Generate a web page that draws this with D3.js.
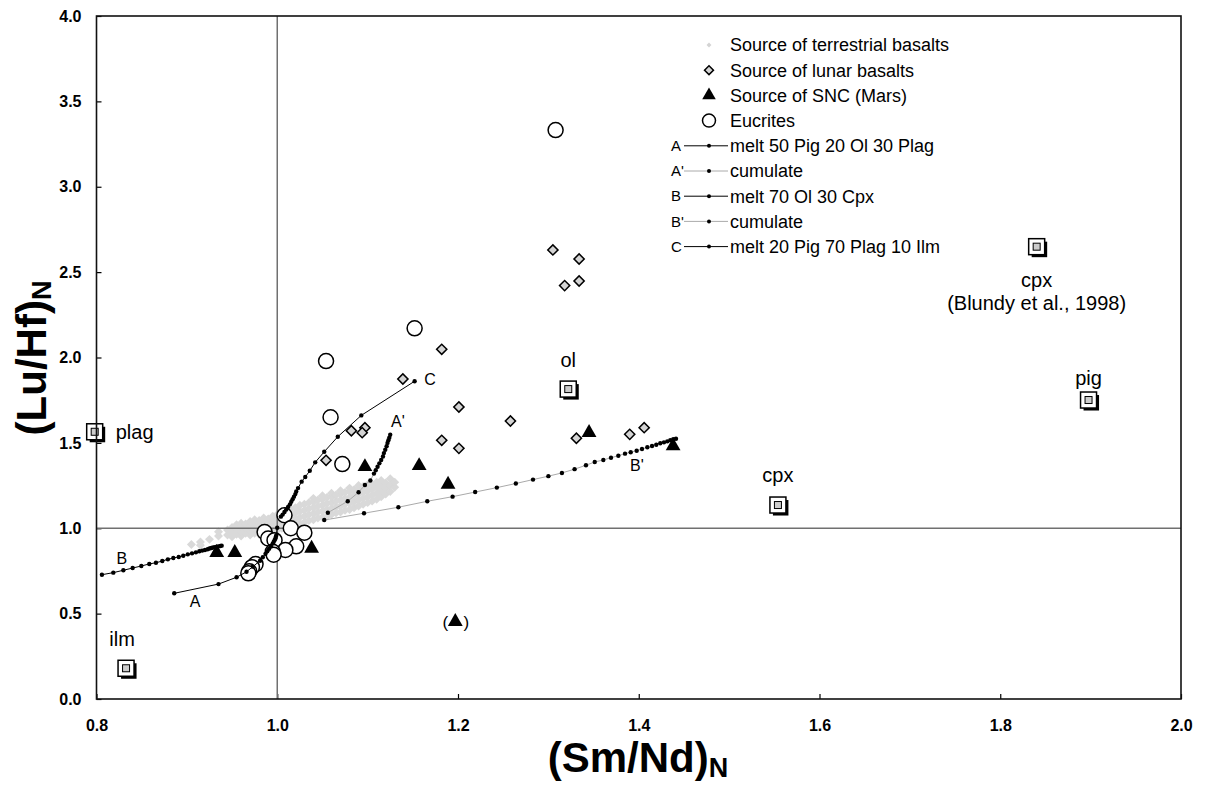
<!DOCTYPE html>
<html>
<head>
<meta charset="utf-8">
<script src="https://cdn.jsdelivr.net/npm/d3@7"></script>
<style>
  body { margin: 0; background: #fff; }
  text { font-family: "Liberation Sans", Arial, sans-serif; }
</style>
</head>
<body>
<script>
'use strict';

// ---- data ----
const xTicks = [0.8, 1.0, 1.2, 1.4, 1.6, 1.8, 2.0]
const yTicks = [0.0, 0.5, 1.0, 1.5, 2.0, 2.5, 3.0, 3.5, 4.0]

// source of terrestrial basalts (grey cloud)
const terrestrial = [
  [0.905,0.905],[0.915,0.92],[0.915,0.90],[0.925,0.935],[0.935,0.955],[0.935,0.98],
  [0.945,0.96],[0.945,0.99],[0.95,0.95],[0.95,0.975],[0.95,1.005],
  [0.955,0.965],[0.955,0.995],[0.955,1.02],[0.96,0.955],[0.96,0.98],[0.96,1.01],[0.96,1.03],
  [0.965,0.97],[0.965,1.0],[0.965,1.025],[0.97,0.96],[0.97,0.985],[0.97,1.01],[0.97,1.04],
  [0.975,0.97],[0.975,1.0],[0.975,1.025],[0.975,1.05],[0.98,0.965],[0.98,0.99],[0.98,1.015],[0.98,1.045],
  [0.985,0.975],[0.985,1.005],[0.985,1.035],[0.985,1.06],[0.99,0.97],[0.99,1.0],[0.99,1.025],[0.99,1.055],
  [0.995,0.985],[0.995,1.015],[0.995,1.045],[0.995,1.07],[1.0,0.99],[1.0,1.02],[1.0,1.05],[1.0,1.08],
  [1.005,1.0],[1.005,1.03],[1.005,1.06],[1.005,1.09],[1.01,1.0],[1.01,1.035],[1.01,1.07],[1.01,1.1],
  [1.015,1.01],[1.015,1.045],[1.015,1.08],[1.015,1.115],[1.02,1.02],[1.02,1.055],[1.02,1.09],[1.02,1.12],
  [1.025,1.03],[1.025,1.065],[1.025,1.1],[1.025,1.135],[1.03,1.035],[1.03,1.07],[1.03,1.105],[1.03,1.14],
  [1.035,1.045],[1.035,1.08],[1.035,1.115],[1.035,1.15],[1.04,1.05],[1.04,1.085],[1.04,1.12],[1.04,1.155],[1.04,1.175],
  [1.045,1.06],[1.045,1.095],[1.045,1.13],[1.045,1.165],[1.05,1.065],[1.05,1.1],[1.05,1.135],[1.05,1.17],[1.05,1.19],
  [1.055,1.07],[1.055,1.11],[1.055,1.145],[1.055,1.18],[1.06,1.08],[1.06,1.115],[1.06,1.15],[1.06,1.185],[1.06,1.205],
  [1.065,1.09],[1.065,1.125],[1.065,1.16],[1.065,1.195],[1.07,1.095],[1.07,1.13],[1.07,1.165],[1.07,1.2],[1.07,1.22],
  [1.075,1.105],[1.075,1.14],[1.075,1.175],[1.075,1.21],[1.08,1.11],[1.08,1.145],[1.08,1.18],[1.08,1.215],[1.08,1.235],
  [1.085,1.12],[1.085,1.155],[1.085,1.19],[1.085,1.225],[1.09,1.13],[1.09,1.165],[1.09,1.2],[1.09,1.235],[1.09,1.25],
  [1.095,1.14],[1.095,1.175],[1.095,1.21],[1.095,1.245],[1.1,1.15],[1.1,1.185],[1.1,1.22],[1.1,1.255],
  [1.105,1.16],[1.105,1.195],[1.105,1.23],[1.105,1.26],[1.11,1.17],[1.11,1.205],[1.11,1.24],[1.11,1.27],
  [1.115,1.185],[1.115,1.22],[1.115,1.255],[1.115,1.28],[1.12,1.2],[1.12,1.235],[1.12,1.265],
  [1.125,1.215],[1.125,1.25],[1.125,1.29],[1.13,1.24],[1.13,1.27]
]

// source of lunar basalts
const lunar = [
  [1.305,2.63],[1.334,2.577],[1.318,2.421],[1.334,2.448],[1.182,2.048],[1.139,1.874],
  [1.201,1.71],[1.258,1.628],[1.082,1.571],[1.097,1.589],[1.094,1.56],[1.054,1.398],
  [1.182,1.515],[1.201,1.468],[1.331,1.527],[1.390,1.55],[1.406,1.589]
]

// source of SNC (Mars)
const snc = [
  [0.933,0.857],[0.953,0.857],[1.038,0.882],[1.097,1.36],[1.157,1.366],[1.189,1.257],
  [1.345,1.56],[1.438,1.482],[1.197,0.453]
]

// eucrites
const eucrites = [
  [1.308,3.332],[1.152,2.171],[1.054,1.979],[1.059,1.65],[1.072,1.376],[1.008,1.076],
  [0.986,0.978],[1.015,1.0],[1.03,0.974],[0.99,0.94],[0.997,0.93],[1.021,0.894],
  [1.009,0.873],[0.995,0.862],[0.996,0.845],[0.976,0.79],[0.972,0.772],[0.969,0.748],[0.968,0.736]
]

// model curves
const curveA = [
  [0.886,0.619],[0.935,0.673],[0.955,0.713],[0.966,0.745],[0.973,0.775],[0.981,0.81],[0.984,0.83],
  [0.987,0.85],[0.989,0.865],[0.991,0.88],[0.993,0.895],[0.995,0.91],[0.996,0.92],[0.997,0.93],
  [0.998,0.94],[0.9985,0.95],[0.999,0.96],[1.0,1.003]
]
const curveA2 = [
  [1.056,1.091],[1.078,1.158],[1.09,1.211],[1.097,1.253],[1.103,1.28],[1.107,1.32],[1.109,1.34],
  [1.111,1.36],[1.113,1.38],[1.115,1.4],[1.117,1.42],[1.118,1.44],[1.1195,1.46],[1.121,1.48],
  [1.122,1.5],[1.123,1.515],[1.124,1.53],[1.125,1.548]
]
const curveB = [
  [0.806,0.728],[0.8186,0.74],[0.8297,0.754],[0.84,0.767],[0.8496,0.779],[0.8584,0.791],[0.8658,0.798],
  [0.8728,0.808],[0.879,0.818],[0.885,0.826],[0.891,0.832],[0.896,0.839],[0.901,0.847],[0.9057,0.853],
  [0.91,0.859],[0.9138,0.865],[0.917,0.869],[0.92,0.873],[0.923,0.877],[0.925,0.881],[0.927,0.884],
  [0.929,0.887],[0.931,0.889],[0.933,0.892],[0.935,0.894],[0.937,0.896],[0.9385,0.898]
]
const curveB2 = [
  [1.052,1.048],[1.096,1.088],[1.134,1.123],[1.166,1.158],[1.194,1.185],[1.219,1.212],[1.243,1.238],
  [1.264,1.262],[1.283,1.285],[1.3,1.305],[1.315,1.324],[1.329,1.346],[1.3416,1.369],[1.3513,1.388],
  [1.3608,1.4],[1.3693,1.413],[1.3774,1.425],[1.3848,1.437],[1.3911,1.445],[1.3977,1.454],[1.4036,1.464],
  [1.4095,1.474],[1.4147,1.482],[1.4194,1.489],[1.4238,1.498],[1.4279,1.503],[1.4316,1.509],
  [1.4349,1.515],[1.4382,1.521],[1.4412,1.524]
]
const curveC = [
  [1.004,1.068],[1.006,1.08],[1.008,1.095],[1.01,1.11],[1.012,1.125],[1.014,1.14],[1.0155,1.155],
  [1.017,1.17],[1.0185,1.185],[1.02,1.2],[1.021,1.215],[1.023,1.235],[1.027,1.273],[1.031,1.3],
  [1.036,1.337],[1.042,1.386],[1.052,1.448],[1.067,1.536],[1.093,1.661],[1.152,1.861]
]

const curveNames = ['A', "A'", 'B', "B'", 'C']
const curveLabelX = [0.909, 1.1336, 0.828, 1.398, 1.169]
const curveLabelY = [0.574, 1.628, 0.826, 1.37, 1.874]

// mineral partition points
const minerals = ['plag', 'ilm', 'ol', 'cpx', 'cpx', 'pig']
const mineralX = [0.798, 0.8327, 1.322, 1.554, 1.8403, 1.8977]
const mineralY = [1.565, 0.18, 1.815, 1.136, 2.649, 1.751]

const legendLabels = [
  'Source of terrestrial basalts', 'Source of lunar basalts', 'Source of SNC (Mars)', 'Eucrites',
  'melt 50 Pig 20 Ol 30 Plag', 'cumulate', 'melt 70 Ol 30 Cpx', 'cumulate', 'melt 20 Pig 70 Plag 10 Ilm'
]

// ---- drawing ----
const W = 1207, H = 788
const svg = d3.select('body').append('svg').attr('width', W).attr('height', H)

const x = d3.scaleLinear().domain([0.8, 2.0]).range([96.5, 1181])
const y = d3.scaleLinear().domain([0, 4]).range([699, 16])

// axes
svg.append('g')
    .attr('transform', `translate(0,${y(0)})`)
    .call(d3.axisBottom(x).tickValues(xTicks).tickFormat(d3.format('.1f')).tickSizeInner(-5).tickSizeOuter(0).tickPadding(21))
    .call(g => g.select('.domain').remove())
svg.append('g')
    .attr('transform', `translate(${x(0.8)},0)`)
    .call(d3.axisLeft(y).tickValues(yTicks).tickFormat(d3.format('.1f')).tickSizeInner(-5).tickSizeOuter(0).tickPadding(15))
    .call(g => g.select('.domain').remove())
svg.selectAll('.tick line').attr('stroke', '#000').attr('stroke-width', 1.2)
svg.selectAll('.tick text').attr('font-size', 16).attr('font-weight', 'bold')
    .attr('font-family', '"Liberation Sans", Arial, sans-serif').attr('fill', '#000')

// grey cloud
const plot = svg.append('g')
plot.selectAll('.terr').data(terrestrial).enter().append('path')
    .attr('d', d3.symbol(d3.symbolSquare, 40)())
    .attr('transform', d => `translate(${x(d[0])},${y(d[1])}) rotate(45)`)
    .attr('fill', '#d9d9d9')

// reference lines at 1.0
plot.append('line').attr('x1', x(0.8)).attr('x2', x(2.0)).attr('y1', y(1)).attr('y2', y(1))
    .attr('stroke', '#707070').attr('stroke-width', 1.5)
plot.append('line').attr('x1', x(1)).attr('x2', x(1)).attr('y1', y(0)).attr('y2', y(4))
    .attr('stroke', '#707070').attr('stroke-width', 1.5)

// frame
svg.append('rect').attr('x', x(0.8)).attr('y', y(4)).attr('width', x(2) - x(0.8)).attr('height', y(0) - y(4))
    .attr('fill', 'none').attr('stroke', '#111').attr('stroke-width', 1.6)

// markers
plot.selectAll('.euc').data(eucrites).enter().append('circle')
    .attr('cx', d => x(d[0])).attr('cy', d => y(d[1])).attr('r', 7.5)
    .attr('fill', '#fff').attr('stroke', '#000').attr('stroke-width', 1.5)

plot.selectAll('.lun').data(lunar).enter().append('path')
    .attr('d', d3.symbol(d3.symbolSquare, 52)())
    .attr('transform', d => `translate(${x(d[0])},${y(d[1])}) rotate(45)`)
    .attr('fill', '#d4d4d4').attr('stroke', '#000').attr('stroke-width', 1.5)

plot.selectAll('.snc').data(snc).enter().append('path')
    .attr('d', d3.symbol(d3.symbolTriangle, 95)())
    .attr('transform', d => `translate(${x(d[0])},${y(d[1])})`)
    .attr('fill', '#000')

// curves
const line = d3.line().x(d => x(d[0])).y(d => y(d[1]))
const curves = [curveA, curveA2, curveB, curveB2, curveC]
const curveStroke = ['#000', '#aaa', '#000', '#aaa', '#000']
curves.forEach(function (c, i) {
    plot.append('path').attr('d', line(c)).attr('fill', 'none')
        .attr('stroke', curveStroke[i]).attr('stroke-width', 1)
    plot.selectAll('.dot' + i).data(c).enter().append('circle')
        .attr('cx', d => x(d[0])).attr('cy', d => y(d[1])).attr('r', 2.2).attr('fill', '#000')
})
curveNames.forEach(function (n, i) {
    plot.append('text').attr('x', x(curveLabelX[i])).attr('y', y(curveLabelY[i]))
        .attr('text-anchor', 'middle').attr('dy', '0.35em').attr('font-size', 16).text(n)
})
// brackets round the odd SNC point
plot.append('text').attr('x', x(snc[8][0]) - 10).attr('y', y(snc[8][1]) + 6)
    .attr('text-anchor', 'middle').attr('font-size', 17).text('(')
plot.append('text').attr('x', x(snc[8][0]) + 11).attr('y', y(snc[8][1]) + 6)
    .attr('text-anchor', 'middle').attr('font-size', 17).text(')')

// mineral squares
function mineralMark(g, cx, cy) {
    g.append('rect').attr('x', cx - 5).attr('y', cy - 5).attr('width', 15.5).attr('height', 15.5).attr('fill', '#000')
    g.append('rect').attr('x', cx - 8).attr('y', cy - 8).attr('width', 16).attr('height', 16)
        .attr('fill', '#fff').attr('stroke', '#000').attr('stroke-width', 1.5)
    g.append('rect').attr('x', cx - 3.5).attr('y', cy - 3.5).attr('width', 7).attr('height', 7)
        .attr('fill', '#ccc').attr('stroke', '#000').attr('stroke-width', 1)
}
const mlabDx = [21, -4, 0, 0, 0, 0]
const mlabDy = [7, -22, -22, -23, 40, -15]
const mlabAnchor = ['start', 'middle', 'middle', 'middle', 'middle', 'middle']
minerals.forEach(function (m, i) {
    const cx = x(mineralX[i]), cy = y(mineralY[i])
    mineralMark(plot.append('g'), cx, cy)
    plot.append('text').attr('x', cx + mlabDx[i]).attr('y', cy + mlabDy[i])
        .attr('text-anchor', mlabAnchor[i]).attr('font-size', 20).text(m)
})
plot.append('text').attr('x', x(mineralX[4])).attr('y', y(mineralY[4]) + 63)
    .attr('text-anchor', 'middle').attr('font-size', 20).text('(Blundy et al., 1998)')

// legend
const leg = svg.append('g').attr('transform', 'translate(709,45)')
const rowH = 25.2
legendLabels.forEach(function (t, i) {
    leg.append('text').attr('x', 21).attr('y', i * rowH).attr('dy', '0.35em').attr('font-size', 18).text(t)
})
leg.append('path').attr('d', d3.symbol(d3.symbolSquare, 12)()).attr('transform', 'rotate(45)').attr('fill', '#d4d4d4')
leg.append('path').attr('d', d3.symbol(d3.symbolSquare, 40)()).attr('transform', `translate(0,${rowH}) rotate(45)`)
    .attr('fill', '#d4d4d4').attr('stroke', '#000').attr('stroke-width', 1.5)
leg.append('path').attr('d', d3.symbol(d3.symbolTriangle, 80)()).attr('transform', `translate(0,${2 * rowH})`).attr('fill', '#000')
leg.append('circle').attr('cy', 3 * rowH).attr('r', 6.5).attr('fill', '#fff').attr('stroke', '#000').attr('stroke-width', 1.5)
curveNames.forEach(function (n, i) {
    const yy = (4 + i) * rowH
    leg.append('text').attr('x', -38).attr('y', yy).attr('dy', '0.35em').attr('font-size', 15).text(n)
    leg.append('line').attr('x1', -25).attr('x2', 19).attr('y1', yy).attr('y2', yy)
        .attr('stroke', curveStroke[i]).attr('stroke-width', 1)
    leg.append('circle').attr('cy', yy).attr('r', 2).attr('fill', '#000')
})

// axis titles
const xt = svg.append('text').attr('x', 638).attr('y', 772).attr('text-anchor', 'middle')
    .attr('font-size', 42).attr('font-weight', 'bold')
xt.append('tspan').text('(Sm/Nd)')
xt.append('tspan').attr('font-size', 27).attr('dy', 5).text('N')

const yt = svg.append('text').attr('transform', 'translate(46,358) rotate(-90)').attr('text-anchor', 'middle')
    .attr('font-size', 42).attr('font-weight', 'bold')
yt.append('tspan').text('(Lu/Hf)')
yt.append('tspan').attr('font-size', 27).attr('dy', 5).text('N')
</script>
</body>
</html>
